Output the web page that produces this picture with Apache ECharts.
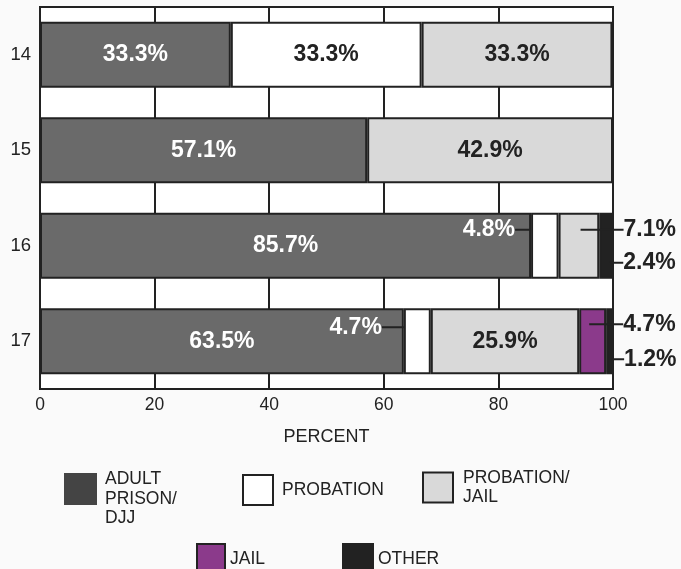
<!DOCTYPE html>
<html><head><meta charset="utf-8">
<script src="https://cdn.jsdelivr.net/npm/echarts@6/dist/echarts.min.js"></script>
<style>html,body{margin:0;padding:0;background:#fafafa;} #chart{width:681px;height:569px;}</style>
</head><body><div id="chart"></div>
<script>
// ---- data ----
const ages = ['14', '15', '16', '17'];
const seriesNames = ['ADULT PRISON/DJJ', 'PROBATION', 'PROBATION/JAIL', 'JAIL', 'OTHER'];
const adultPrison = [33.3, 57.1, 85.7, 63.5];
const probation = [33.3, 0, 4.8, 4.7];
const probationJail = [33.3, 42.9, 7.1, 25.9];
const jail = [0, 0, 0, 4.7];
const other = [0, 0, 2.4, 1.2];
const xTicks = [0, 20, 40, 60, 80, 100];
const legendLabels = ['\nADULT\nPRISON/\nDJJ', 'PROBATION', 'PROBATION/\nJAIL', 'JAIL', 'OTHER'];

// ---- styles ----
const FONT = '"Liberation Sans", Arial, sans-serif';
const fills = ['#6a6a6a', '#ffffff', '#d9d9d9', '#8b3a8b', '#222222'];
const labelColors = ['#ffffff', '#222222', '#222222', '#222222', '#222222'];
const LINE = '#222';
const LABEL_SIZE = 23;
// callout labels with leader lines (label offsets relative to their segment)
const callouts = {
  'PROBATION|16': { side: 'left', dx: 0, dy: 17, len: 16, color: '#ffffff' },
  'PROBATION|17': { side: 'left', dx: 0, dy: 19, len: 22, color: '#ffffff' },
  'PROBATION/JAIL|16': { side: 'right', dx: 22, dy: 17, len: 43, color: '#222222' },
  'OTHER|16': { side: 'right', dx: 10, dy: 50, len: 14, color: '#222222' },
  'JAIL|17': { side: 'right', dx: 10, dy: 16, len: 34, color: '#222222' },
  'OTHER|17': { side: 'right', dx: 5, dy: 51, len: 13, color: '#222222' }
};

const valuesBySeries = [adultPrison, probation, probationJail, jail, other];
const fmt = v => v.toFixed(1) + '%';

function buildData(sIdx) {
  const name = seriesNames[sIdx];
  return valuesBySeries[sIdx].map((v, i) => {
    if (!v) return { value: null };
    const c = callouts[name + '|' + ages[i]];
    if (!c) return { value: v };
    const rich = {
      t: { color: c.color, fontSize: LABEL_SIZE, fontWeight: 'bold', fontFamily: FONT, verticalAlign: 'middle' },
      ln: { width: c.len, height: 2, backgroundColor: '#222', verticalAlign: 'middle' }
    };
    return {
      value: v,
      label: {
        show: true,
        position: [c.dx, c.dy],
        align: c.side === 'left' ? 'right' : 'left',
        verticalAlign: 'middle',
        formatter: c.side === 'left' ? '{t|' + fmt(v) + '}{ln|}' : '{ln|}{t|' + fmt(v) + '}',
        rich: rich
      }
    };
  });
}

const series = seriesNames.map((name, s) => ({
  name: name,
  type: 'bar',
  stack: 'total',
  barWidth: 66,
  itemStyle: { color: fills[s], borderColor: LINE, borderWidth: 2 },
  label: {
    show: true,
    position: 'inside',
    color: labelColors[s],
    fontSize: LABEL_SIZE,
    fontWeight: 'bold',
    fontFamily: FONT,
    formatter: p => fmt(p.value)
  },
  emphasis: { disabled: true },
  data: buildData(s)
}));

const legendPos = [
  { left: 64, top: 450, textPad: [0, 0, 0, 4], w: 31, h: 30 },
  { left: 242, top: 474, textPad: [0, 0, 0, 4], w: 30, h: 30 },
  { left: 422, top: 468, textPad: [0, 0, 0, 5], w: 30, h: 30 },
  { left: 196, top: 543, textPad: [0, 0, 0, 0], w: 28, h: 30 },
  { left: 342, top: 543, textPad: [0, 0, 0, 0], w: 30, h: 30 }
];
const legends = seriesNames.map((name, s) => ({
  data: [{ name: name, icon: 'rect', itemStyle: s === 0 ? { color: '#444', borderColor: '#444' } : { color: fills[s], borderColor: LINE, borderWidth: 2 } }],
  left: legendPos[s].left,
  top: legendPos[s].top,
  padding: 0,
  itemWidth: legendPos[s].w,
  itemHeight: legendPos[s].h,
  selectedMode: false,
  formatter: () => legendLabels[s],
  textStyle: { fontSize: 17.5, lineHeight: 19.5, color: '#222', fontFamily: FONT, padding: legendPos[s].textPad }
}));

const chart = echarts.init(document.getElementById('chart'), null, { renderer: 'canvas' });
chart.setOption({
  backgroundColor: '#fafafa',
  animation: false,
  legend: legends,
  grid: {
    left: 40, right: 68, top: 7, bottom: 180,
    show: true, backgroundColor: '#ffffff', borderColor: LINE, borderWidth: 2
  },
  xAxis: {
    type: 'value',
    min: xTicks[0], max: xTicks[xTicks.length - 1], interval: xTicks[1] - xTicks[0],
    name: 'PERCENT', nameLocation: 'middle', nameGap: 39,
    nameTextStyle: { fontSize: 18, color: '#222', fontFamily: FONT },
    axisLine: { show: true, lineStyle: { color: LINE, width: 2 } },
    axisTick: { show: false },
    axisLabel: { fontSize: 17.5, color: '#222', fontFamily: FONT, margin: 7 },
    splitLine: { show: true, lineStyle: { color: LINE, width: 2 } }
  },
  yAxis: {
    type: 'category',
    data: ages,
    inverse: true,
    axisLine: { show: true, lineStyle: { color: LINE, width: 2 } },
    axisTick: { show: false },
    axisLabel: { fontSize: 18.5, color: '#222', fontFamily: FONT, margin: 9 }
  },
  series: series
});
</script>
</body></html>
